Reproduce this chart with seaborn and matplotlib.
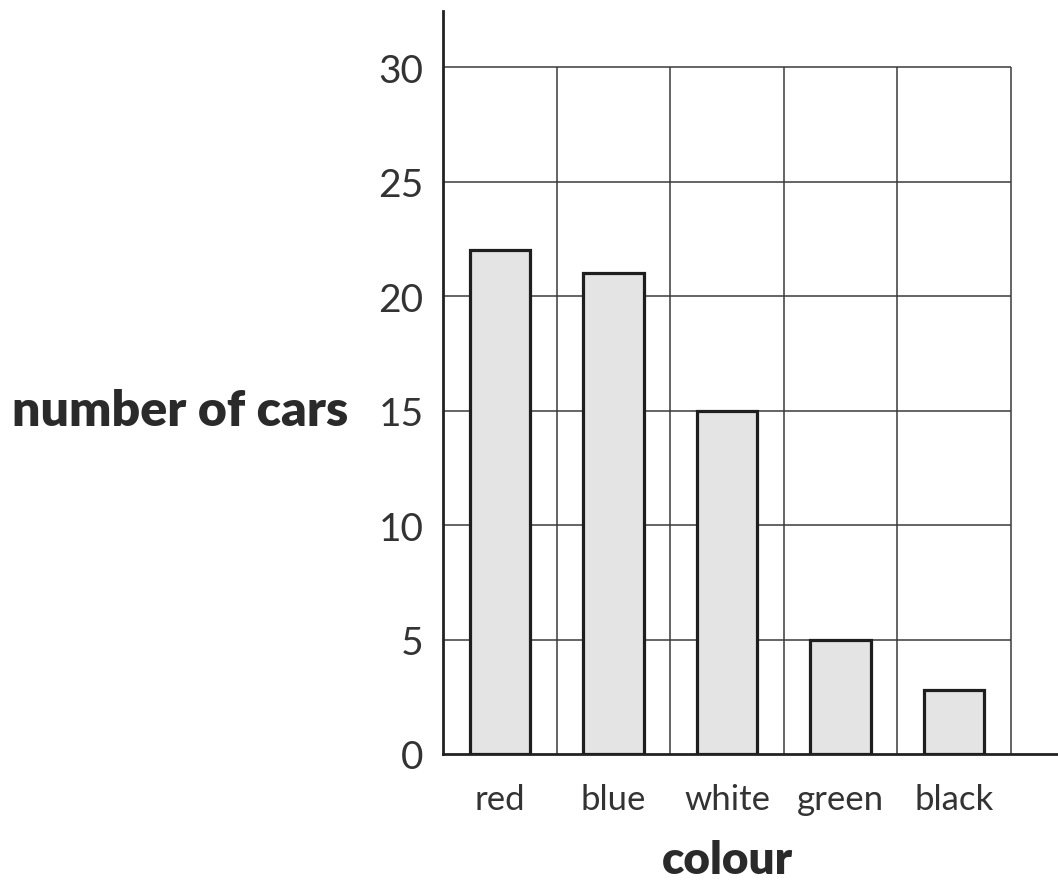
import matplotlib
matplotlib.use("Agg")
import matplotlib.pyplot as plt
import seaborn as sns
import pandas as pd

colours = ["red", "blue", "white", "green", "black"]
cars = [22, 21, 15, 5, 2.8]
y_ticks = [0, 5, 10, 15, 20, 25, 30]

sns.set_theme(style="white")
plt.rcParams["font.family"] = ["Lato", "DejaVu Sans"]

W, H = 1058, 887
fig = plt.figure(figsize=(W / 100, H / 100), dpi=100)
ax = fig.add_axes([443 / W, (H - 755) / H, 615 / W, 743 / H])

df = pd.DataFrame({"colour": colours, "cars": cars})

grid_c = "#3a3a3a"
n = len(colours)
for y in y_ticks[1:]:
    ax.hlines(y, -0.5, n - 0.5, color=grid_c, lw=1.1, zorder=0)
for i in range(n):
    ax.vlines(i + 0.5, 0, y_ticks[-1], color=grid_c, lw=1.1, zorder=0)

sns.barplot(data=df, x="colour", y="cars", color="#e4e4e4", saturation=1,
            edgecolor="#1e1e1e", linewidth=2.3, width=0.53, ax=ax, zorder=3)

ax.set_xlim(-0.5, n - 0.5 + 47 / 113.6)
ax.set_ylim(0, 32.45)
ax.set_yticks(y_ticks)
ax.set_yticklabels([str(v) for v in y_ticks])

for s in ["top", "right"]:
    ax.spines[s].set_visible(False)
for s in ["left", "bottom"]:
    ax.spines[s].set_color("#222222")
    ax.spines[s].set_linewidth(2.0)

ax.tick_params(axis="y", length=0, pad=14, labelsize=28, labelcolor="#333333")
ax.tick_params(axis="x", length=0, pad=21, labelsize=25, labelcolor="#333333")

ax.set_xlabel("colour", fontsize=33, fontweight="heavy", color="#2a2a2a")
ax.xaxis.set_label_coords(2.5 / (n + 47 / 113.6), -0.115)
ax.set_ylabel("number of cars", fontsize=36, fontweight="heavy", color="#2a2a2a",
              rotation=0, ha="right", va="center")
ax.yaxis.set_label_coords(-95 / 615, 15 / 32.45)

fig.savefig("out.png", dpi=100, facecolor="white")
